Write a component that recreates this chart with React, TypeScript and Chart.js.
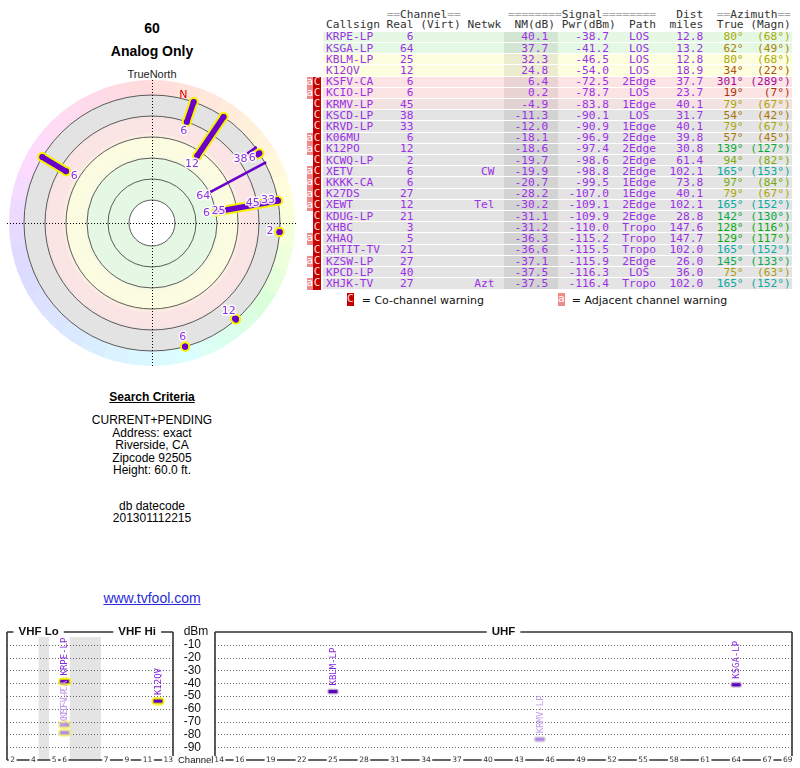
import React, { useEffect, useRef } from "react";
import { Chart, registerables } from "chart.js";

Chart.register(...registerables);

// ---------------- data ----------------
const callsigns = ["KRPE-LP", "KSGA-LP", "KBLM-LP", "K12QV", "KSFV-CA", "KCIO-LP", "KRMV-LP", "KSCD-LP", "KRVD-LP", "K06MU", "K12PO", "KCWQ-LP", "XETV", "KKKK-CA", "K27DS", "XEWT", "KDUG-LP", "XHBC", "XHAQ", "XHTIT-TV", "KZSW-LP", "KPCD-LP", "XHJK-TV"];
const realChannels = [6, 64, 25, 12, 6, 6, 45, 38, 33, 6, 12, 2, 6, 6, 27, 12, 21, 3, 5, 21, 27, 40, 27];
const networks = ["", "", "", "", "", "", "", "", "", "", "", "", "CW", "", "", "Tel", "", "", "", "", "", "", "Azt"];
const nmDb = [40.1, 37.7, 32.3, 24.8, 6.4, 0.2, -4.9, -11.3, -12.0, -18.1, -18.6, -19.7, -19.9, -20.7, -28.2, -30.2, -31.1, -31.2, -36.3, -36.6, -37.1, -37.5, -37.5];
const pwrDbm = [-38.7, -41.2, -46.5, -54.0, -72.5, -78.7, -83.8, -90.1, -90.9, -96.9, -97.4, -98.6, -98.8, -99.5, -107.0, -109.1, -109.9, -110.0, -115.2, -115.5, -115.9, -116.3, -116.4];
const paths = ["LOS", "LOS", "LOS", "LOS", "2Edge", "LOS", "1Edge", "LOS", "1Edge", "2Edge", "2Edge", "2Edge", "2Edge", "1Edge", "1Edge", "2Edge", "2Edge", "Tropo", "Tropo", "Tropo", "2Edge", "LOS", "Tropo"];
const distMiles = [12.8, 13.2, 12.8, 18.9, 37.7, 23.7, 40.1, 31.7, 40.1, 39.8, 30.8, 61.4, 102.1, 73.8, 40.1, 102.1, 28.8, 147.6, 147.7, 102.0, 26.0, 36.0, 102.0];
const azTrue = [80, 62, 80, 34, 301, 19, 79, 54, 79, 57, 139, 94, 165, 97, 79, 165, 142, 128, 129, 165, 145, 75, 165];
const azMagn = [68, 49, 68, 22, 289, 7, 67, 42, 67, 45, 127, 82, 153, 84, 67, 152, 130, 116, 117, 152, 133, 63, 152];
const warnings = ["", "", "", "", "aC", "aC", "C", "C", "C", "aC", "aC", "C", "aC", "aC", "aC", "aC", "C", "C", "aC", "C", "aC", "C", "aC"];

const ringNm = [80, 60, 40, 20, 0, -20];
const dbmTicks = [-10, -20, -30, -40, -50, -60, -70, -80, -90];
const vhfTickChannels = [2, 4, 5, 6, 7, 9, 11, 13];
const uhfTickChannels = [14, 16, 19, 22, 25, 28, 31, 34, 37, 40, 43, 46, 49, 52, 55, 58, 61, 64, 67, 69];
const searchLines = ["CURRENT+PENDING", "Address: exact", "Riverside, CA", "Zipcode 92505", "Height: 60.0 ft."];
const dbLines = ["db datecode", "201301112215"];

// ---------------- style ----------------
const U0 = 101.9; // NM value at plot centre
const PX_PER_DB = 1.05;
const POLAR_MIN_NM = -20;
const BAND_OUTER_NM = -34.3;
const SPECTRUM_MIN_NM = -5;
const STRONG_NM = 10;
const PURPLE = "#6a00cc";
const YELLOW = "#f3f300";
const LABEL_PURPLE = "#9030e0";
const TEXT_PURPLE = "#9b30e6";
const MONO = '"DejaVu Sans Mono", monospace';
const SANS = '"Liberation Sans", Arial, sans-serif';
const DEJAVU = '"DejaVu Sans", sans-serif';
const ROW_TOP = 31.7;
const ROW_H = 11.21;

const hueStops = [[0, 0], [34, 28], [62, 45], [80, 60], [94, 75], [130, 125], [165, 178], [180, 190], [260, 250], [301, 305], [360, 360]];
function hueOf(b: number) {
  b = ((b % 360) + 360) % 360;
  for (let i = 1; i < hueStops.length; i++) {
    const [b0, h0] = hueStops[i - 1];
    const [b1, h1] = hueStops[i];
    if (b <= b1) return h0 + ((h1 - h0) * (b - b0)) / (b1 - b0);
  }
  return 0;
}
const azColor = (b: number) => `hsl(${hueOf(b)}, 90%, 35%)`;

function toXY(nm: number, bearing: number) {
  const u = U0 - nm;
  const a = (bearing * Math.PI) / 180;
  return { x: u * Math.sin(a), y: u * Math.cos(a) };
}

// ---------------- polar plot ----------------
const polarIdx = callsigns.map((_, i) => i).filter((i) => nmDb[i] >= POLAR_MIN_NM);
const declination = azTrue[0] - azMagn[0];

const polarBackground = {
  id: "polarBackground",
  beforeDatasetsDraw(chart: any) {
    const { ctx } = chart;
    const xs = chart.scales.x;
    const ys = chart.scales.y;
    const cx = xs.getPixelForValue(0);
    const cy = ys.getPixelForValue(0);
    const k = xs.getPixelForValue(1) - cx;
    const rad = (nm: number) => (U0 - nm) * k;
    ctx.save();
    const rIn = rad(POLAR_MIN_NM);
    const rOut = rad(BAND_OUTER_NM);
    for (let b = 0; b < 360; b += 10) {
      const a0 = ((b - 90) * Math.PI) / 180;
      const a1 = ((b + 10 - 90) * Math.PI) / 180 + 0.01;
      ctx.beginPath();
      ctx.arc(cx, cy, rOut, a0, a1);
      ctx.arc(cx, cy, rIn - 1, a1, a0, true);
      ctx.closePath();
      ctx.fillStyle = `hsl(${hueOf(b + 5)}, 100%, 93%)`;
      ctx.fill();
    }
    const g = ctx.createRadialGradient(cx, cy, 0, cx, cy, rIn);
    const stops: [number, string][] = [[U0, "#e4f8e4"], [43, "#e4f8e4"], [37, "#fbfbe2"], [22, "#fcfce0"], [16, "#fbe4e4"], [3, "#fbe4e4"], [-2, "#e3e3e3"], [-20, "#e3e3e3"]];
    stops.forEach(([nm, c]) => g.addColorStop(Math.min(1, rad(nm) / rIn), c));
    ctx.beginPath();
    ctx.arc(cx, cy, rIn, 0, Math.PI * 2);
    ctx.fillStyle = g;
    ctx.fill();
    ctx.beginPath();
    ctx.arc(cx, cy, rad(ringNm[0]), 0, Math.PI * 2);
    ctx.fillStyle = "#fff";
    ctx.fill();
    ctx.strokeStyle = "#4a4a4a";
    ctx.lineWidth = 0.9;
    ringNm.forEach((nm) => {
      ctx.beginPath();
      ctx.arc(cx, cy, rad(nm), 0, Math.PI * 2);
      ctx.stroke();
    });
    ctx.strokeStyle = "#000";
    ctx.lineWidth = 1;
    ctx.setLineDash([1, 2]);
    const hy = Math.round(cy) + 0.5;
    const vx = Math.round(cx) + 0.5;
    ctx.beginPath();
    ctx.moveTo(cx - 145, hy);
    ctx.lineTo(cx + 144, hy);
    ctx.moveTo(vx, cy - 143);
    ctx.lineTo(vx, cy + 145);
    ctx.stroke();
    ctx.setLineDash([]);
    const na = (declination * Math.PI) / 180;
    const nr = rad(-22.9);
    ctx.font = `11px ${DEJAVU}`;
    ctx.fillStyle = "#e00000";
    ctx.textAlign = "left";
    ctx.textBaseline = "middle";
    ctx.fillText("N", cx + nr * Math.sin(na), cy - nr * Math.cos(na));
    ctx.restore();
  },
  afterDatasetsDraw(chart: any) {
    const { ctx } = chart;
    const xs = chart.scales.x;
    const ys = chart.scales.y;
    const cx = xs.getPixelForValue(0);
    const cy = ys.getPixelForValue(0);
    const k = xs.getPixelForValue(1) - cx;
    ctx.save();
    ctx.font = `11px ${DEJAVU}`;
    ctx.textAlign = "center";
    ctx.textBaseline = "middle";
    ctx.lineJoin = "round";
    const placed: number[][] = [];
    const hits = (x: number, y: number, w: number) =>
      placed.some(([px, py, pw]) => Math.abs(px - x) < (pw + w) / 2 + 1 && Math.abs(py - y) < 9);
    polarIdx.forEach((i) => {
      const txt = String(realChannels[i]);
      const w = ctx.measureText(txt).width;
      const a = (azTrue[i] * Math.PI) / 180;
      const r0 = (U0 - nmDb[i]) * k;
      let r = r0 - 9.5;
      let x = cx + r * Math.sin(a);
      let y = cy - r * Math.cos(a);
      while (hits(x, y, w) && r < r0 + 12) {
        r += 1;
        x = cx + r * Math.sin(a);
        y = cy - r * Math.cos(a);
      }
      placed.push([x, y, w]);
      ctx.lineWidth = 3;
      ctx.strokeStyle = "rgba(255,255,255,0.9)";
      ctx.strokeText(txt, x, y);
      ctx.fillStyle = LABEL_PURPLE;
      ctx.fillText(txt, x, y);
    });
    ctx.restore();
  },
};

function PolarPlot() {
  const ref = useRef<HTMLCanvasElement>(null);
  useEffect(() => {
    const canvas = ref.current!;
    const R = 152 / PX_PER_DB;
    const datasets: any[] = [];
    polarIdx.forEach((i) => {
      const vhf = realChannels[i] <= 13;
      const pts = [toXY(nmDb[i], azTrue[i]), toXY(POLAR_MIN_NM, azTrue[i])];
      const common = { data: pts, showLine: true, borderCapStyle: "round", borderJoinStyle: "round", pointBorderWidth: 0 };
      if (vhf) {
        datasets.push({ ...common, borderColor: YELLOW, borderWidth: 9.5, pointRadius: 5, pointBackgroundColor: YELLOW, order: 3 });
      }
      datasets.push({ ...common, borderColor: PURPLE, borderWidth: vhf ? 5.5 : 2.7, pointRadius: vhf ? 3 : 1.35, pointBackgroundColor: PURPLE, order: vhf ? 2 : 1 });
    });
    const chart = new Chart(canvas, {
      type: "scatter",
      data: { datasets },
      options: {
        animation: false,
        responsive: false,
        events: [],
        layout: { padding: 0, autoPadding: false },
        plugins: { legend: { display: false }, tooltip: { enabled: false } },
        scales: {
          x: { type: "linear", min: -R, max: R, display: false },
          y: { type: "linear", min: -R, max: R, display: false },
        },
      } as any,
      plugins: [polarBackground],
    });
    return () => chart.destroy();
  }, []);
  return <canvas ref={ref} width={304} height={304} style={{ position: "absolute", left: 0, top: 71, width: 304, height: 304 }} />;
}

// ---------------- spectrum ----------------
const vhfSlot = (ch: number) => (ch <= 4 ? ch - 2 : ch <= 6 ? ch - 1 : ch + 2);
const uhfSlot = (ch: number) => ch;
const spectrumIdx = callsigns.map((_, i) => i).filter((i) => nmDb[i] >= SPECTRUM_MIN_NM);

function makeMarker(fill: string, halo: string, hw: number, hh: number) {
  const c = document.createElement("canvas");
  c.width = 14;
  c.height = 9;
  const g = c.getContext("2d")!;
  g.fillStyle = halo;
  g.beginPath();
  if ((g as any).roundRect) (g as any).roundRect((14 - hw) / 2, (9 - hh) / 2, hw, hh, hh / 2);
  else g.rect((14 - hw) / 2, (9 - hh) / 2, hw, hh);
  g.fill();
  g.fillStyle = fill;
  g.fillRect(2.5, 2.75, 9, 3.5);
  return c;
}

function spectrumPlugin(cfg: any) {
  return {
    id: "spectrum_" + cfg.name,
    beforeDatasetsDraw(chart: any) {
      const { ctx, chartArea: a } = chart;
      const xs = chart.scales.x;
      const ys = chart.scales.y;
      ctx.save();
      ctx.fillStyle = "#e4e4e4";
      cfg.greyBands.forEach(([s0, s1]: number[]) => {
        const x0 = xs.getPixelForValue(s0);
        const x1 = xs.getPixelForValue(s1);
        ctx.fillRect(x0, a.top + 5, x1 - x0, a.bottom - a.top - 5);
      });
      ctx.strokeStyle = "#666";
      ctx.lineWidth = 1;
      ctx.setLineDash([1, 2]);
      dbmTicks.forEach((v) => {
        const y = Math.round(ys.getPixelForValue(v)) + 0.5;
        ctx.beginPath();
        ctx.moveTo(a.left, y);
        ctx.lineTo(a.right, y);
        ctx.stroke();
      });
      ctx.restore();
    },
    afterDatasetsDraw(chart: any) {
      const { ctx, chartArea: a } = chart;
      const xs = chart.scales.x;
      const ys = chart.scales.y;
      ctx.save();
      chart.data.datasets.forEach((ds: any, di: number) => {
        const el = chart.getDatasetMeta(di).data[0];
        if (!el) return;
        ctx.save();
        ctx.translate(el.x, el.y - 6);
        ctx.rotate(-Math.PI / 2);
        ctx.font = `9px ${MONO}`;
        ctx.fillStyle = ds.labelColor;
        ctx.textAlign = "left";
        ctx.textBaseline = "middle";
        ctx.fillText(ds.label, 0, 0.5);
        ctx.restore();
      });
      ctx.strokeStyle = "#333";
      ctx.lineWidth = 1.6;
      ctx.setLineDash([]);
      ctx.font = `bold 11.5px ${SANS}`;
      const gaps = cfg.titles.map((t: any) => {
        const cxp = xs.getPixelForValue((cfg.xOf(t.from) + cfg.xOf(t.to)) / 2);
        const w = ctx.measureText(t.text).width;
        return [cxp - w / 2 - 5, cxp + w / 2 + 5, cxp, t.text];
      });
      ctx.fillStyle = "#fff";
      gaps.forEach((g: any) => ctx.fillRect(g[0], a.top - 6, g[1] - g[0], 11));
      ctx.beginPath();
      let x = a.left;
      gaps.forEach((g: any) => {
        ctx.moveTo(x, a.top);
        ctx.lineTo(g[0], a.top);
        x = g[1];
      });
      ctx.moveTo(x, a.top);
      ctx.lineTo(a.right, a.top);
      ctx.moveTo(a.left, a.top);
      ctx.lineTo(a.left, a.bottom);
      ctx.moveTo(a.right, a.top);
      ctx.lineTo(a.right, a.bottom);
      ctx.moveTo(a.left, a.bottom);
      ctx.lineTo(a.right, a.bottom);
      ctx.stroke();
      ctx.fillStyle = "#111";
      ctx.textAlign = "center";
      ctx.textBaseline = "middle";
      gaps.forEach((g: any) => ctx.fillText(g[3], g[2], a.top));
      ctx.font = `7.5px ${DEJAVU}`;
      cfg.ticks.forEach((ch: number) => {
        const px = xs.getPixelForValue(cfg.xOf(ch));
        const w = ctx.measureText(String(ch)).width;
        ctx.fillStyle = "#fff";
        ctx.fillRect(px - w / 2 - 1.5, a.bottom - 4, w + 3, 8);
        ctx.fillStyle = "#333";
        ctx.fillText(String(ch), px, a.bottom + 0.5);
      });
      if (cfg.axisText) {
        ctx.font = `12px ${SANS}`;
        ctx.fillStyle = "#111";
        ctx.textAlign = "right";
        dbmTicks.forEach((v) => ctx.fillText(String(v), a.left - 14, ys.getPixelForValue(v)));
        ctx.textAlign = "center";
        ctx.fillText("dBm", a.left - 19, a.top);
        ctx.font = `9.5px ${SANS}`;
        ctx.textAlign = "left";
        ctx.fillText("Channel", a.left - 37, a.bottom);
      }
      ctx.restore();
    },
  };
}

function Spectrum({ cfg }: { cfg: any }) {
  const ref = useRef<HTMLCanvasElement>(null);
  useEffect(() => {
    const canvas = ref.current!;
    const idx = spectrumIdx.filter((i) => cfg.filter(realChannels[i]));
    const sorted = [...idx].sort((p, q) => nmDb[p] - nmDb[q]);
    const datasets = sorted.map((i) => {
      const strong = nmDb[i] >= STRONG_NM;
      const fill = strong ? "#6000c0" : "#b48be6";
      const halo = cfg.vhf ? (strong ? YELLOW : "#f2f07a") : strong ? "#cfcfcf" : "#dcdcdc";
      const img = cfg.vhf ? makeMarker(fill, halo, 13, 8) : makeMarker(fill, halo, 12, 6);
      return {
        label: callsigns[i],
        labelColor: strong ? "#8426dc" : "#c49cec",
        data: [{ x: cfg.xOf(realChannels[i]), y: pwrDbm[i] }],
        pointStyle: img,
        pointRadius: 5,
      };
    });
    const chart = new Chart(canvas, {
      type: "scatter",
      data: { datasets },
      options: {
        animation: false,
        responsive: false,
        events: [],
        layout: { padding: { left: cfg.padL, right: cfg.padR, top: 12, bottom: 8 }, autoPadding: false },
        plugins: { legend: { display: false }, tooltip: { enabled: false } },
        scales: {
          x: { type: "linear", min: cfg.xMin, max: cfg.xMax, display: false },
          y: { type: "linear", min: -100, max: 0, display: false },
        },
      } as any,
      plugins: [spectrumPlugin(cfg)],
    });
    return () => chart.destroy();
  }, []);
  return <canvas ref={ref} width={cfg.width} height={148} style={{ position: "absolute", left: cfg.left, top: 620, width: cfg.width, height: 148 }} />;
}

const vhfCfg = {
  name: "vhf",
  vhf: true,
  left: 0,
  width: 176,
  padL: 7,
  padR: 3,
  xMin: -0.55,
  xMax: 15.45,
  xOf: vhfSlot,
  ticks: vhfTickChannels,
  titles: [{ text: "VHF Lo", from: 2, to: 6 }, { text: "VHF Hi", from: 7, to: 13 }],
  filter: (ch: number) => ch <= 13,
  greyBands: [[vhfSlot(4) + 0.5, vhfSlot(5) - 0.5], [vhfSlot(6) + 0.5, vhfSlot(7) - 0.5]],
  axisText: false,
};
const uhfCfg = {
  name: "uhf",
  vhf: false,
  left: 176,
  width: 624,
  padL: 39,
  padR: 8,
  xMin: 13.6,
  xMax: 69.4,
  xOf: uhfSlot,
  ticks: uhfTickChannels,
  titles: [{ text: "UHF", from: 14, to: 69 }],
  filter: (ch: number) => ch >= 14,
  greyBands: [],
  axisText: true,
};

// ---------------- table ----------------
const center = (s: string, n: number) => {
  const l = Math.floor((n - s.length) / 2);
  return " ".repeat(l) + s + " ".repeat(n - s.length - l);
};
function rowColor(nm: number) {
  if (nm >= 35) return "#e4f8e4";
  if (nm >= 20) return "#fdfde0";
  if (nm >= 0) return "#fce4e4";
  if (nm >= -10) return "#f2e2e2";
  return "#e4e4e4";
}

function HeaderLine({ text, top }: { text: string; top: number }) {
  const parts = text.split(/(=+)/);
  return (
    <div style={{ position: "absolute", left: 326, top, font: `11.2px ${MONO}`, lineHeight: `${ROW_H}px`, whiteSpace: "pre", color: "#333" }}>
      {parts.map((p, k) => (
        <span key={k} style={{ color: p.startsWith("=") ? "#aaa" : "#333" }}>{p}</span>
      ))}
    </div>
  );
}

function TableRow({ i }: { i: number }) {
  const top = ROW_TOP + i * ROW_H;
  const main =
    callsigns[i].padEnd(9) +
    String(realChannels[i]).padStart(4) +
    networks[i].padStart(12) +
    nmDb[i].toFixed(1).padStart(8) +
    pwrDbm[i].toFixed(1).padStart(9) +
    "  " +
    center(paths[i], 5) +
    distMiles[i].toFixed(1).padStart(7);
  const ac = azColor(azTrue[i]);
  const w = warnings[i];
  return (
    <>
      <div style={{ position: "absolute", left: 323.3, top, width: 468.4, height: ROW_H - 1, background: rowColor(nmDb[i]) }} />
      <div style={{ position: "absolute", left: 504, top, width: 53.7, height: ROW_H - 1, background: "rgba(0,0,0,0.07)" }} />
      {w.includes("a") && (
        <div style={{ position: "absolute", left: 306.5, top, width: 6.8, height: ROW_H, background: "#f08a8a", color: "#fff", font: `11px ${MONO}`, lineHeight: `${ROW_H - 1}px`, textAlign: "center", overflow: "hidden" }}>a</div>
      )}
      {w.includes("C") && (
        <div style={{ position: "absolute", left: 313.3, top, width: 7.4, height: ROW_H, background: "#c40000", color: "#ffd8d8", font: `11px ${MONO}`, lineHeight: `${ROW_H - 1}px`, textAlign: "center", overflow: "hidden" }}>C</div>
      )}
      <div style={{ position: "absolute", left: 326, top: top - 0.4, font: `11.2px ${MONO}`, lineHeight: `${ROW_H}px`, whiteSpace: "pre", color: TEXT_PURPLE }}>
        {main}
        <span style={{ color: ac }}>{(azTrue[i] + "°").padStart(6)}</span>
        <span style={{ color: ac }}>{("(" + azMagn[i] + "°)").padStart(7)}</span>
      </div>
    </>
  );
}

// ---------------- app ----------------
export default function App() {
  const abs = (top: number, extra: any = {}) => ({ position: "absolute" as const, left: 0, width: 304, top, textAlign: "center" as const, ...extra });
  return (
    <div style={{ position: "absolute", left: 0, top: 0, width: 800, height: 768, background: "#fff", fontFamily: SANS, color: "#000" }}>
      <div style={abs(20, { font: `bold 14px ${SANS}`, lineHeight: "16px" })}>60</div>
      <div style={abs(42.7, { font: `bold 14px ${SANS}`, lineHeight: "16px" })}>Analog Only</div>
      <div style={abs(67.5, { font: `11px ${SANS}`, lineHeight: "13px", color: "#222" })}>TrueNorth</div>
      <PolarPlot />
      <div style={abs(390.3, { font: `bold 12px ${SANS}`, lineHeight: "14px" })}>
        <span style={{ textDecoration: "underline" }}>Search Criteria</span>
      </div>
      {searchLines.map((s, k) => (
        <div key={s} style={abs(413 + k * 12.5, { font: `12px ${SANS}`, lineHeight: "14px" })}>{s}</div>
      ))}
      {dbLines.map((s, k) => (
        <div key={s} style={abs(499 + k * 12, { font: `12px ${SANS}`, lineHeight: "14px" })}>{s}</div>
      ))}
      <div style={abs(590.3, { font: `14px ${SANS}`, lineHeight: "16px" })}>
        <a href="http://www.tvfool.com" style={{ color: "#2b2bd9", textDecoration: "underline" }}>www.tvfool.com</a>
      </div>

      <HeaderLine top={9.1} text={"         ==Channel==       ========Signal========   Dist  ==Azimuth=="} />
      <HeaderLine top={19.4} text={"Callsign Real (Virt) Netwk  NM(dB) Pwr(dBm)  Path  miles  True (Magn)"} />
      {callsigns.map((_, i) => (
        <TableRow key={i} i={i} />
      ))}
      <div style={{ position: "absolute", left: 346.7, top: 293.3, width: 7.3, height: 12.4, background: "#c40000", color: "#ffd8d8", font: `11px ${MONO}`, lineHeight: "12.4px", textAlign: "center", overflow: "hidden" }}>C</div>
      <div style={{ position: "absolute", left: 361.7, top: 293.5, font: `11px ${DEJAVU}`, lineHeight: "13px", color: "#111", whiteSpace: "pre" }}>= Co-channel warning</div>
      <div style={{ position: "absolute", left: 557.7, top: 293.3, width: 7.3, height: 12.4, background: "#f08a8a", color: "#fff", font: `11px ${MONO}`, lineHeight: "12.4px", textAlign: "center", overflow: "hidden" }}>a</div>
      <div style={{ position: "absolute", left: 571.7, top: 293.5, font: `11px ${DEJAVU}`, lineHeight: "13px", color: "#111", whiteSpace: "pre" }}>= Adjacent channel warning</div>

      <Spectrum cfg={vhfCfg} />
      <Spectrum cfg={uhfCfg} />
    </div>
  );
}
